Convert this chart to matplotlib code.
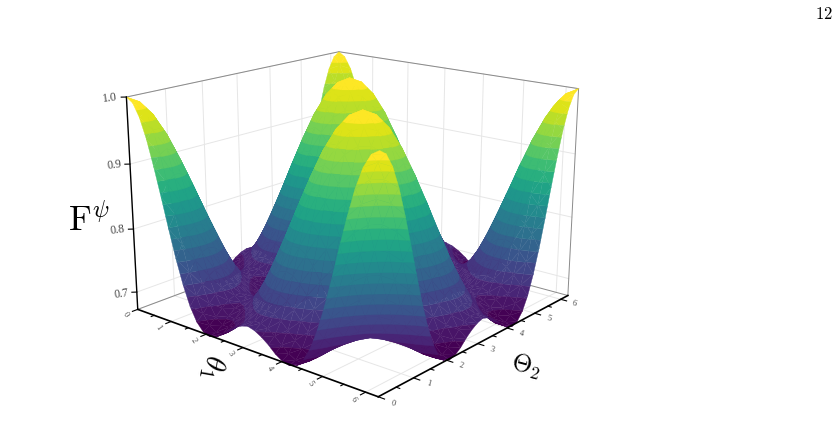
import numpy as np
import matplotlib
matplotlib.use('Agg')
import matplotlib.pyplot as plt
from mpl_toolkits.mplot3d import proj3d
from mpl_toolkits.mplot3d.art3d import Poly3DCollection

# angles of the grid, degrees
theta_deg = list(range(0, 361, 10))
x_ticks = [0, 1, 2, 3, 4, 5, 6]
y_ticks = [0, 1, 2, 3, 4, 5, 6]
z_ticks = [0.7, 0.8, 0.9, 1.0]
z_labels = ['0.7', '0.8', '0.9', '1.0']

# F values, in thousandths (row = theta1, column = theta2)
F_rows = [
[1000,993,974,944,905,862,817,774,737,707,686,674,670,673,680,690,698,704,707,704,698,690,680,673,670,674,686,707,737,774,817,862,905,944,974,993,1000],
[993,993,980,955,921,880,836,793,753,720,695,680,673,674,680,689,699,707,711,711,707,699,689,680,674,673,680,695,720,753,793,836,880,921,955,980,993],
[974,980,974,955,927,890,849,807,767,733,707,689,680,680,686,695,707,717,724,726,724,717,707,695,686,680,680,689,707,733,767,807,849,890,927,955,974],
[944,955,955,944,921,890,853,814,777,743,717,699,690,689,695,707,720,733,743,749,749,743,733,720,707,695,689,690,699,717,743,777,814,853,890,921,944],
[905,921,927,921,905,880,849,814,780,749,724,707,698,699,707,720,737,753,767,777,780,777,767,753,737,720,707,699,698,707,724,749,780,814,849,880,905],
[862,880,890,890,880,862,836,807,777,749,726,711,704,707,717,733,753,774,793,807,814,814,807,793,774,753,733,717,707,704,711,726,749,777,807,836,862],
[817,836,849,853,849,836,817,793,767,743,724,711,707,711,724,743,767,793,817,836,849,853,849,836,817,793,767,743,724,711,707,711,724,743,767,793,817],
[774,793,807,814,814,807,793,774,753,733,717,707,704,711,726,749,777,807,836,862,880,890,890,880,862,836,807,777,749,726,711,704,707,717,733,753,774],
[737,753,767,777,780,777,767,753,737,720,707,699,698,707,724,749,780,814,849,880,905,921,927,921,905,880,849,814,780,749,724,707,698,699,707,720,737],
[707,720,733,743,749,749,743,733,720,707,695,689,690,699,717,743,777,814,853,890,921,944,955,955,944,921,890,853,814,777,743,717,699,690,689,695,707],
[686,695,707,717,724,726,724,717,707,695,686,680,680,689,707,733,767,807,849,890,927,955,974,980,974,955,927,890,849,807,767,733,707,689,680,680,686],
[674,680,689,699,707,711,711,707,699,689,680,674,673,680,695,720,753,793,836,880,921,955,980,993,993,980,955,921,880,836,793,753,720,695,680,673,674],
[670,673,680,690,698,704,707,704,698,690,680,673,670,674,686,707,737,774,817,862,905,944,974,993,1000,993,974,944,905,862,817,774,737,707,686,674,670],
[673,674,680,689,699,707,711,711,707,699,689,680,674,673,680,695,720,753,793,836,880,921,955,980,993,993,980,955,921,880,836,793,753,720,695,680,673],
[680,680,686,695,707,717,724,726,724,717,707,695,686,680,680,689,707,733,767,807,849,890,927,955,974,980,974,955,927,890,849,807,767,733,707,689,680],
[690,689,695,707,720,733,743,749,749,743,733,720,707,695,689,690,699,717,743,777,814,853,890,921,944,955,955,944,921,890,853,814,777,743,717,699,690],
[698,699,707,720,737,753,767,777,780,777,767,753,737,720,707,699,698,707,724,749,780,814,849,880,905,921,927,921,905,880,849,814,780,749,724,707,698],
[704,707,717,733,753,774,793,807,814,814,807,793,774,753,733,717,707,704,711,726,749,777,807,836,862,880,890,890,880,862,836,807,777,749,726,711,704],
[707,711,724,743,767,793,817,836,849,853,849,836,817,793,767,743,724,711,707,711,724,743,767,793,817,836,849,853,849,836,817,793,767,743,724,711,707],
[704,711,726,749,777,807,836,862,880,890,890,880,862,836,807,777,749,726,711,704,707,717,733,753,774,793,807,814,814,807,793,774,753,733,717,707,704],
[698,707,724,749,780,814,849,880,905,921,927,921,905,880,849,814,780,749,724,707,698,699,707,720,737,753,767,777,780,777,767,753,737,720,707,699,698],
[690,699,717,743,777,814,853,890,921,944,955,955,944,921,890,853,814,777,743,717,699,690,689,695,707,720,733,743,749,749,743,733,720,707,695,689,690],
[680,689,707,733,767,807,849,890,927,955,974,980,974,955,927,890,849,807,767,733,707,689,680,680,686,695,707,717,724,726,724,717,707,695,686,680,680],
[673,680,695,720,753,793,836,880,921,955,980,993,993,980,955,921,880,836,793,753,720,695,680,673,674,680,689,699,707,711,711,707,699,689,680,674,673],
[670,674,686,707,737,774,817,862,905,944,974,993,1000,993,974,944,905,862,817,774,737,707,686,674,670,673,680,690,698,704,707,704,698,690,680,673,670],
[674,673,680,695,720,753,793,836,880,921,955,980,993,993,980,955,921,880,836,793,753,720,695,680,673,674,680,689,699,707,711,711,707,699,689,680,674],
[686,680,680,689,707,733,767,807,849,890,927,955,974,980,974,955,927,890,849,807,767,733,707,689,680,680,686,695,707,717,724,726,724,717,707,695,686],
[707,695,689,690,699,717,743,777,814,853,890,921,944,955,955,944,921,890,853,814,777,743,717,699,690,689,695,707,720,733,743,749,749,743,733,720,707],
[737,720,707,699,698,707,724,749,780,814,849,880,905,921,927,921,905,880,849,814,780,749,724,707,698,699,707,720,737,753,767,777,780,777,767,753,737],
[774,753,733,717,707,704,711,726,749,777,807,836,862,880,890,890,880,862,836,807,777,749,726,711,704,707,717,733,753,774,793,807,814,814,807,793,774],
[817,793,767,743,724,711,707,711,724,743,767,793,817,836,849,853,849,836,817,793,767,743,724,711,707,711,724,743,767,793,817,836,849,853,849,836,817],
[862,836,807,777,749,726,711,704,707,717,733,753,774,793,807,814,814,807,793,774,753,733,717,707,704,711,726,749,777,807,836,862,880,890,890,880,862],
[905,880,849,814,780,749,724,707,698,699,707,720,737,753,767,777,780,777,767,753,737,720,707,699,698,707,724,749,780,814,849,880,905,921,927,921,905],
[944,921,890,853,814,777,743,717,699,690,689,695,707,720,733,743,749,749,743,733,720,707,695,689,690,699,717,743,777,814,853,890,921,944,955,955,944],
[974,955,927,890,849,807,767,733,707,689,680,680,686,695,707,717,724,726,724,717,707,695,686,680,680,689,707,733,767,807,849,890,927,955,974,980,974],
[993,980,955,921,880,836,793,753,720,695,680,673,674,680,689,699,707,711,711,707,699,689,680,674,673,680,695,720,753,793,836,880,921,955,980,993,993],
[1000,993,974,944,905,862,817,774,737,707,686,674,670,673,680,690,698,704,707,704,698,690,680,673,670,674,686,707,737,774,817,862,905,944,974,993,1000],
]

theta = np.radians(theta_deg)
F = np.array(F_rows) / 1000.0

xmax = ymax = theta[-1]
zmin, zmax = 0.672, 1.0
n_bands = 20


def clip_z(pts, level, above):
    # cut a polygon with the plane z = level, keep one side
    out = []
    for k in range(len(pts)):
        p, q = pts[k], pts[(k + 1) % len(pts)]
        p_in = p[2] >= level if above else p[2] <= level
        q_in = q[2] >= level if above else q[2] <= level
        if p_in:
            out.append(p)
        if p_in != q_in:
            s = (level - p[2]) / (q[2] - p[2])
            out.append((p[0] + s * (q[0] - p[0]), p[1] + s * (q[1] - p[1]), level))
    return out


def band_polys():
    # same idea as contourf, but the filled bands lie on the surface
    edges = np.linspace(0.67, 1.0, n_bands + 1)
    polys, cols = [], []
    for i in range(len(theta) - 1):
        for j in range(len(theta) - 1):
            a = (theta[i], theta[j], F[i, j])
            b = (theta[i + 1], theta[j], F[i + 1, j])
            c = (theta[i + 1], theta[j + 1], F[i + 1, j + 1])
            d = (theta[i], theta[j + 1], F[i, j + 1])
            for tri in ([a, b, c], [a, c, d]):
                zs = [p[2] for p in tri]
                for k in range(n_bands):
                    if max(zs) < edges[k] or min(zs) > edges[k + 1]:
                        continue
                    part = clip_z(tri, edges[k], True)
                    if part:
                        part = clip_z(part, edges[k + 1], False)
                    if len(part) >= 3:
                        polys.append(part)
                        cols.append(plt.cm.viridis(k / (n_bands - 1)))
    return polys, cols


W, H = 840, 431
side = 431
cx, cy = 350, 207
fig = plt.figure(figsize=(W / 100, H / 100), dpi=100)
ax = fig.add_axes([(cx - side / 2) / W, 1 - (cy + side / 2) / H, side / W, side / H],
                  projection='3d', computed_zorder=False)
ax.set_proj_type('persp', focal_length=0.55)
ax.view_init(elev=17, azim=-50)
ax.set_box_aspect((1, 1, 0.70), zoom=1.112)
ax.set_xlim(0, xmax)
ax.set_ylim(0, ymax)
ax.set_zlim(zmin, zmax)
ax.set_xticks([])
ax.set_yticks([])
ax.set_zticks([])
ax.set_axis_off()

grid_c = '#e6e6e6'
edge_c = '#8a8a8a'
line_kw = dict(clip_on=False)

# grid on floor and back walls
for t in x_ticks:
    ax.plot([t, t], [0, ymax], [zmin, zmin], color=grid_c, lw=0.7, zorder=1, **line_kw)
    ax.plot([t, t], [ymax, ymax], [zmin, zmax], color=grid_c, lw=0.7, zorder=1, **line_kw)
for t in y_ticks:
    ax.plot([0, xmax], [t, t], [zmin, zmin], color=grid_c, lw=0.7, zorder=1, **line_kw)
    ax.plot([0, 0], [t, t], [zmin, zmax], color=grid_c, lw=0.7, zorder=1, **line_kw)
for z in z_ticks:
    ax.plot([0, 0], [0, ymax], [z, z], color=grid_c, lw=0.7, zorder=1, **line_kw)
    ax.plot([0, xmax], [ymax, ymax], [z, z], color=grid_c, lw=0.7, zorder=1, **line_kw)

# box edges
ax.plot([0, 0, xmax], [0, ymax, ymax], [zmax, zmax, zmax], color=edge_c, lw=0.7, zorder=1, **line_kw)
ax.plot([0, 0, xmax], [0, ymax, ymax], [zmin, zmin, zmin], color=edge_c, lw=0.7, zorder=1, **line_kw)
ax.plot([xmax, xmax], [ymax, ymax], [zmin, zmax], color=edge_c, lw=0.7, zorder=1, **line_kw)
ax.plot([0, 0], [ymax, ymax], [zmin, zmax], color=edge_c, lw=0.7, zorder=1, **line_kw)

# surface, coloured in bands of constant height
polys, cols = band_polys()
surf = Poly3DCollection(polys, facecolors=cols, edgecolors=cols, linewidths=0.25, zorder=2)
ax.add_collection3d(surf, autolim=False)
surf.set_clip_on(False)

# axis lines in front
ax.plot([0, 0], [0, 0], [zmin, zmax], color='black', lw=1.0, zorder=3, **line_kw)
ax.plot([0, xmax], [0, 0], [zmin, zmin], color='black', lw=1.2, zorder=3, **line_kw)
ax.plot([xmax, xmax], [0, ymax], [zmin, zmin], color='black', lw=1.2, zorder=3, **line_kw)

lab_font = dict(family='Liberation Serif', color='#444444', zorder=4, ha='center', va='center')


def put_label(x, y, z, s, **kw):
    # projected by hand so the text stays plain 2D text
    px, py, _ = proj3d.proj_transform(x, y, z, ax.get_proj())
    ax.text2D(px, py, s, transform=ax.transData, clip_on=False, **lab_font, **kw)


for t in np.arange(0, 6.5, 0.5):
    size = 0.14 if t == int(t) else 0.08
    ax.plot([t, t], [0, -size], [zmin, zmin], color='black', lw=0.8, zorder=3, **line_kw)
    ax.plot([xmax, xmax + size], [t, t], [zmin, zmin], color='black', lw=0.8, zorder=3, **line_kw)
for t in x_ticks:
    put_label(t, -0.33, zmin, str(t), fontsize=6, rotation=-55)
for t in y_ticks:
    put_label(xmax + 0.33, t, zmin, str(t), fontsize=6, rotation=-15)
for z, s in zip(z_ticks, z_labels):
    ax.plot([0, -0.07], [0, -0.07], [z, z], color='black', lw=0.8, zorder=3, **line_kw)
    put_label(-0.22, -0.22, z, s, fontsize=8.5, rotation=8)

plt.rcParams['mathtext.fontset'] = 'cm'
fig.text(89 / W, 1 - 221 / H, r'$\mathrm{F}^{\psi}$', fontsize=25, ha='center', va='center')
fig.text(213 / W, 1 - 367 / H, r'$\theta_{1}$', fontsize=21, rotation=-100, ha='center', va='center')
fig.text(526 / W, 1 - 366 / H, r'$\Theta_{2}$', fontsize=18, rotation=-15, ha='center', va='center')
fig.text(824 / W, 1 - 14 / H, r'$\mathrm{12}$', fontsize=12, ha='center', va='center')

fig.savefig('out.png', dpi=100)
